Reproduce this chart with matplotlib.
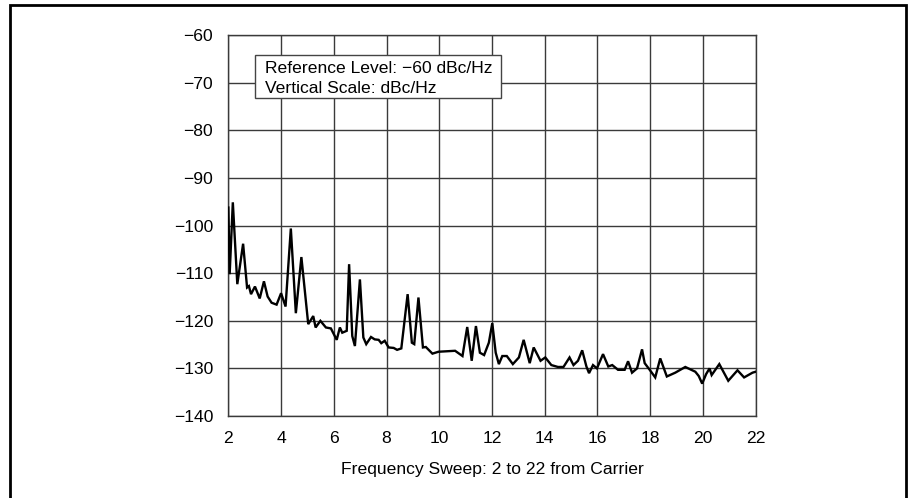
import matplotlib
matplotlib.use("Agg")
import matplotlib.pyplot as plt
from matplotlib.patches import Rectangle

plt.rcParams['font.family'] = ['Liberation Sans', 'DejaVu Sans']

# Data
freq = [2.0, 2.05, 2.17, 2.34, 2.56, 2.71, 2.78, 2.86, 3.01, 3.19, 3.35, 3.49, 3.64, 3.83,
        4.0, 4.17, 4.37, 4.56, 4.77, 5.03, 5.22, 5.31, 5.49, 5.70, 5.89, 6.11, 6.23, 6.32,
        6.49, 6.58, 6.70, 6.80, 6.99, 7.12, 7.23, 7.41, 7.55, 7.70, 7.80, 7.93, 8.08, 8.27,
        8.40, 8.56, 8.80, 8.96, 9.05, 9.21, 9.38, 9.49, 9.74, 9.97, 10.60, 10.88, 11.06,
        11.23, 11.39, 11.54, 11.70, 11.88, 12.01, 12.14, 12.26, 12.39, 12.56, 12.79, 13.02,
        13.20, 13.43, 13.58, 13.84, 14.02, 14.25, 14.50, 14.71, 14.94, 15.09, 15.26, 15.42,
        15.58, 15.68, 15.83, 15.98, 16.21, 16.41, 16.56, 16.78, 17.03, 17.16, 17.31, 17.50,
        17.69, 17.79, 17.98, 18.19, 18.38, 18.63, 18.95, 19.33, 19.71, 19.84, 19.97, 20.12,
        20.25, 20.33, 20.62, 20.96, 21.31, 21.56, 21.88, 22.0]
level = [-96.2, -110.2, -95.1, -112.3, -103.8, -113.0, -112.7, -114.4, -112.8, -115.3,
         -111.7, -114.9, -116.2, -116.6, -114.2, -117.0, -100.6, -118.4, -106.6, -120.7,
         -119.0, -121.4, -120.0, -121.4, -121.6, -124.0, -121.4, -122.5, -122.1, -108.1,
         -123.2, -125.3, -111.3, -123.5, -124.9, -123.4, -123.9, -124.0, -124.7, -124.2,
         -125.6, -125.7, -126.1, -125.8, -114.4, -124.6, -124.9, -115.1, -125.6, -125.5,
         -126.9, -126.5, -126.3, -127.4, -121.3, -128.4, -121.1, -126.7, -127.2, -124.6,
         -120.5, -126.7, -129.1, -127.4, -127.4, -129.1, -127.7, -124.0, -128.9, -125.6,
         -128.4, -127.7, -129.3, -129.7, -129.7, -127.7, -129.3, -128.4, -126.2, -129.6,
         -131.0, -129.3, -130.0, -127.0, -129.6, -129.3, -130.3, -130.3, -128.5, -130.9,
         -130.0, -126.0, -128.9, -130.3, -131.9, -127.9, -131.7, -130.9, -129.7, -130.7,
         -131.6, -133.2, -131.2, -130.0, -131.4, -129.1, -132.6, -130.4, -131.9, -130.9,
         -130.7]

x_ticks = [2, 4, 6, 8, 10, 12, 14, 16, 18, 20, 22]
y_ticks = [-60, -70, -80, -90, -100, -110, -120, -130, -140]
x_label = "Frequency Sweep: 2 to 22 from Carrier"
note_lines = ["Reference Level: \u221260 dBc/Hz", "Vertical Scale: dBc/Hz"]

FS = 12.6

fig = plt.figure(figsize=(9.13, 4.98), dpi=100)
ax = fig.add_axes([0.2501, 0.1647, 0.8277 - 0.2501, 0.9291 - 0.1647])

ax.plot(freq, level, color='black', lw=1.7, zorder=3, solid_joinstyle='miter')
ax.set_xlim(2, 22)
ax.set_ylim(-140, -60)
ax.set_xticks(x_ticks)
ax.set_yticks(y_ticks)
ax.set_yticklabels([f"\u2212{abs(v)}" for v in y_ticks])
ax.tick_params(length=0, labelsize=FS, pad=11)
ax.tick_params(axis='x', pad=11)
ax.grid(True, color='#3a3a3a', lw=1.0)
for s in ax.spines.values():
    s.set_color('#3a3a3a')
    s.set_linewidth(1.0)
ax.set_xlabel(x_label, fontsize=FS, labelpad=11)

# Annotation box
box = Rectangle((0.0506, 0.834), 0.517 - 0.0506, 0.948 - 0.834, transform=ax.transAxes,
                facecolor='white', edgecolor='#444444', lw=1.0, zorder=4)
ax.add_patch(box)
for ty, line in zip([0.900, 0.849], note_lines):
    ax.text(0.0696, ty, line, transform=ax.transAxes, fontsize=FS, va='baseline',
            ha='left', zorder=5)

# Figure border
border = Rectangle((10 / 913, -0.02), (906 - 10) / 913, 1.02 - 5 / 498,
                   transform=fig.transFigure, fill=False, edgecolor='black', lw=2.0,
                   clip_on=False)
fig.patches.append(border)

fig.savefig("out.png", dpi=100)
